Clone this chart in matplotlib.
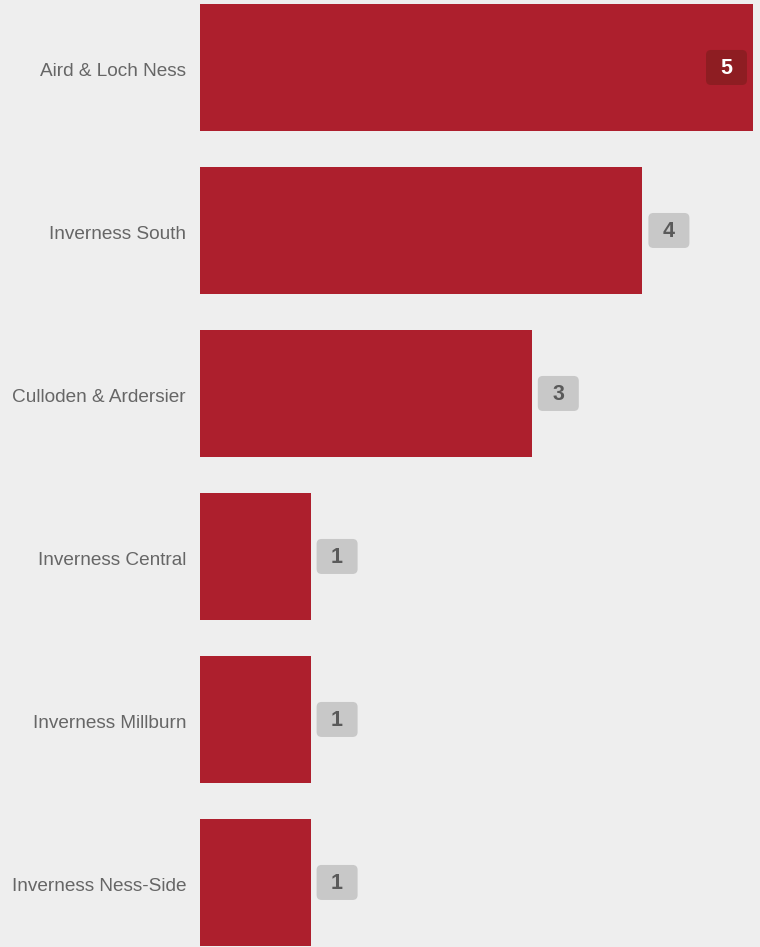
import matplotlib
matplotlib.use("Agg")
import matplotlib.pyplot as plt
from matplotlib.patches import FancyBboxPatch

categories = ["Aird & Loch Ness", "Inverness South", "Culloden & Ardersier",
              "Inverness Central", "Inverness Millburn", "Inverness Ness-Side"]
values = [5, 4, 3, 1, 1, 1]

BG = "#eeeeee"
BAR = "#ad1f2d"

fig = plt.figure(figsize=(7.6, 9.47), dpi=100, facecolor=BG)
ax = fig.add_axes([200/760, 0, 553/760, 1])
ax.set_facecolor(BG)

ypos = list(range(len(categories)))
ax.barh(ypos, values, height=0.78, color=BAR, zorder=2)
ax.set_xlim(0, 5)
ax.set_ylim(5.396, -0.414)

ax.set_yticks([y + 2/163 for y in ypos])
ax.set_yticklabels(categories, fontsize=13.7, color="#666666", family="Liberation Sans")
ax.tick_params(axis="y", length=0, pad=10)
ax.set_xticks([])
for s in ax.spines.values():
    s.set_visible(False)

xpx = 553/5
ypx = 163.0
bw = 41/xpx
bh = 35/ypx
aspect = (1/ypx)/(1/xpx)
vmax = max(values)
for y, v in zip(ypos, values):
    if v == vmax:
        x0 = v - 6/xpx - bw
        fc, tc = "#8e1d22", "white"
    else:
        x0 = v + 6/xpx
        fc, tc = "#c8c8c8", "#5a5a5a"
    p = FancyBboxPatch((x0, y - bh/2), bw, bh,
                       boxstyle="round,pad=0,rounding_size=%f" % (5/xpx),
                       mutation_aspect=aspect, fc=fc, ec="none", zorder=3,
                       clip_on=False)
    ax.add_patch(p)
    ax.text(x0 + bw/2, y + 1.5/ypx, str(v), ha="center", va="center", color=tc,
            fontsize=15.5, fontweight="bold", family="Liberation Sans", zorder=4)

fig.savefig("out.png", dpi=100, facecolor=BG)
